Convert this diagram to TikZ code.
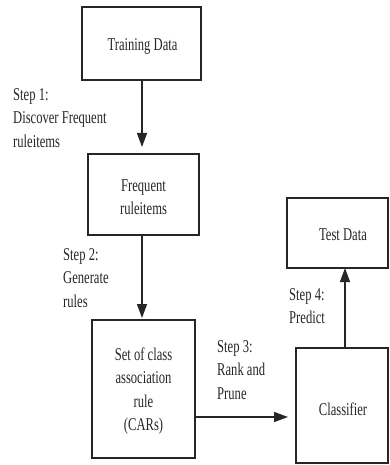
\documentclass[tikz,border=0pt]{standalone}
\usepackage{fontspec}
\setmainfont{Liberation Serif}[FakeStretch=0.7]
\usetikzlibrary{arrows.meta}
\begin{document}
\begin{tikzpicture}[x=1pt,y=-1pt,
  box/.style={draw=black!85, line width=1.3pt},
  boxtext/.style={align=center, font=\fontsize{18}{23.5}\selectfont, inner sep=0pt, text=black!85},
  lbl/.style={align=left, anchor=north west, inner sep=0pt, font=\fontsize{18}{23.5}\selectfont, text=black!85},
  conn/.style={draw=black!85, line width=1.3pt, -{Triangle[length=14pt,width=10pt]}}]
\useasboundingbox (0,0) rectangle (389,465);
% boxes
\draw[box] (82,7) rectangle (201,80);
\node[boxtext] (train) at (142.5,46) {Training Data};
\coordinate (trainb) at (142,80);
\draw[box] (88,154) rectangle (199,235);
\node[boxtext] (freq) at (143.5,197) {Frequent\\ruleitems};
\coordinate (freqt) at (142,147);
\coordinate (freqb) at (142,235);
\draw[box] (92,320) rectangle (195,458);
\node[boxtext] (cars) at (143.5,391) {Set of class\\association\\rule\\(CARs)};
\coordinate (carst) at (142,318);
\coordinate (carsr) at (195,417);
\draw[box] (287,198) rectangle (388,268);
\node[boxtext] (test) at (343,235) {Test Data};
\coordinate (testb) at (345,268);
\draw[box] (296,348) rectangle (388,463);
\node[boxtext] (clf) at (343,409) {Classifier};
\coordinate (clfl) at (288,417);
\coordinate (clft) at (345,348);
% connectors
\draw[conn] (trainb) -- (freqt);
\draw[conn] (freqb) -- (carst);
\draw[conn] (carsr) -- (clfl);
\draw[conn] (clft) -- (testb);
% labels
\node[lbl] (s1) at (13,88) {Step 1:\\Discover Frequent\\ruleitems};
\node[lbl] (s2) at (63,248) {Step 2:\\Generate\\rules};
\node[lbl] (s3) at (217,340) {Step 3:\\Rank and\\Prune};
\node[lbl] (s4) at (289,288) {Step 4:\\Predict};
\end{tikzpicture}
\end{document}
